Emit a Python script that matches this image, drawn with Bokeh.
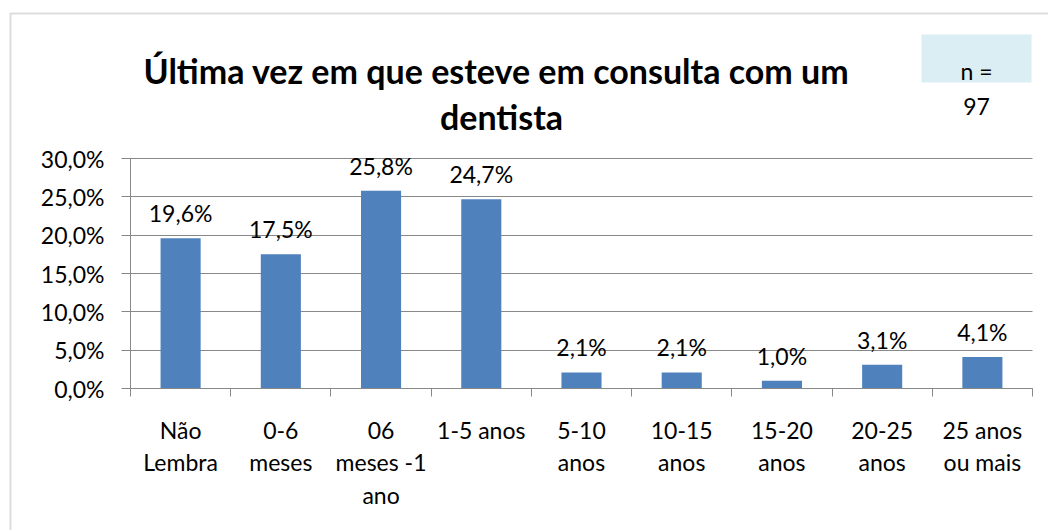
from bokeh.plotting import figure
from bokeh.models import (Range1d, FixedTicker, CustomJSTickFormatter, ColumnDataSource,
                          LabelSet, Label, BoxAnnotation, LinearAxis, Grid)
from bokeh.core.properties import value
from bokeh.embed import file_html
from bokeh.resources import INLINE

# ---- data ----
categories = ["Não\nLembra", "0-6\nmeses", "06\nmeses -1\nano", "1-5 anos", "5-10\nanos",
              "10-15\nanos", "15-20\nanos", "20-25\nanos", "25 anos\nou mais"]
values = [0.196, 0.175, 0.258, 0.247, 0.021, 0.021, 0.010, 0.031, 0.041]
y_ticks = [0.0, 0.05, 0.10, 0.15, 0.20, 0.25, 0.30]
title_lines = ["Última vez em que esteve em consulta com um", "dentista"]
n_lines = ["n =", "97"]

FONT = "Lato"
GRAY = "#888888"
N = len(categories)
YMAX = 0.30

# ---- layout (pixels on the canvas) ----
W, H = 1048, 530
PL, PR, PT, PB = 130, 1032, 158, 388      # plot-area edges
sx = (PR - PL) / N
sy = (PB - PT) / YMAX
X0, X1 = -PL / sx, (W - PL) / sx
Y0, Y1 = -(H - PB) / sy, PB / sy

p = figure(width=W, height=H, output_backend="svg", toolbar_location=None,
           x_range=Range1d(X0, X1), y_range=Range1d(Y0, Y1),
           x_axis_location=None, y_axis_location=None, min_border=0)
p.center = []          # drop default grids
p.title.visible = False
p.outline_line_color = None
p.background_fill_color = "white"
p.border_fill_color = "white"

# outer chart border (top and left visible)
p.add_layout(BoxAnnotation(left=10, right=W + 20, top=13, bottom=H + 20,
                           left_units="canvas", right_units="canvas",
                           top_units="canvas", bottom_units="canvas",
                           fill_color=None, line_color="#8a8a8a", line_width=2))

# grid
grid_kw = dict(dimension=1, ticker=FixedTicker(ticks=y_ticks), grid_line_color=GRAY,
               grid_line_width=1)
try:
    grid = Grid(cross_bounds=(0, N), **grid_kw)
    p.add_layout(grid)
except AttributeError:
    p.segment(x0=[0] * len(y_ticks), x1=[N] * len(y_ticks), y0=y_ticks, y1=y_ticks,
              line_color=GRAY, line_width=1)

xs = [i + 0.5 for i in range(N)]
labels = [f"{v*100:.1f}".replace(".", ",") + "%" for v in values]
src = ColumnDataSource(dict(x=xs, top=values, label=labels))
p.vbar(x="x", top="top", width=0.4, bottom=0, source=src, fill_color="#4F81BD", line_color=None)

p.add_layout(LabelSet(x="x", y="top", text="label", source=src, text_align="center",
                      text_baseline="bottom", y_offset=11, text_font=value(FONT),
                      text_font_size="23px", text_color="black"))

# x axis
xa = LinearAxis(fixed_location=0, bounds=(0, N))
xa.ticker = FixedTicker(ticks=xs, minor_ticks=list(range(N + 1)))
xa.major_label_overrides = {x: c for x, c in zip(xs, categories)}
xa.major_tick_line_color = None
xa.minor_tick_in = 0
xa.minor_tick_out = 8
xa.minor_tick_line_color = GRAY
xa.axis_line_color = GRAY
xa.major_label_standoff = 19
xa.major_label_text_font = FONT
xa.major_label_text_font_size = "23px"
xa.major_label_text_color = "black"
xa.major_label_text_line_height = 1.17
p.add_layout(xa, "below")

# y axis
ya = LinearAxis(fixed_location=0, bounds=(0, YMAX))
ya.ticker = FixedTicker(ticks=y_ticks, minor_ticks=[])
ya.formatter = CustomJSTickFormatter(code="return (tick*100).toFixed(1).replace('.', ',') + '%';")
ya.major_tick_in = 0
ya.major_tick_out = 9
ya.major_tick_line_color = GRAY
ya.axis_line_color = GRAY
ya.major_label_standoff = 17
ya.major_label_text_font = FONT
ya.major_label_text_font_size = "23px"
ya.major_label_text_color = "black"
p.add_layout(ya, "left")

# title
for txt, x0, y0 in [(title_lines[0], 496, 70), (title_lines[1], 501, 116)]:
    p.add_layout(Label(x=x0, y=y0, x_units="canvas", y_units="canvas", text=txt,
                       text_align="center", text_baseline="alphabetic", text_font=FONT,
                       text_font_style="bold", text_font_size="34px", text_color="black"))

# n box
p.add_layout(BoxAnnotation(left=921, right=1031, top=34, bottom=82,
                           left_units="canvas", right_units="canvas",
                           top_units="canvas", bottom_units="canvas",
                           fill_color="#DAEEF3", fill_alpha=1, line_color=None))
for txt, x0, y0 in [(n_lines[0], 976, 70), (n_lines[1], 976, 106)]:
    p.add_layout(Label(x=x0, y=y0, x_units="canvas", y_units="canvas", text=txt,
                       text_align="center", text_baseline="alphabetic", text_font=FONT,
                       text_font_size="23px", text_color="black"))

open("out.html", "w").write(file_html(p, INLINE))
